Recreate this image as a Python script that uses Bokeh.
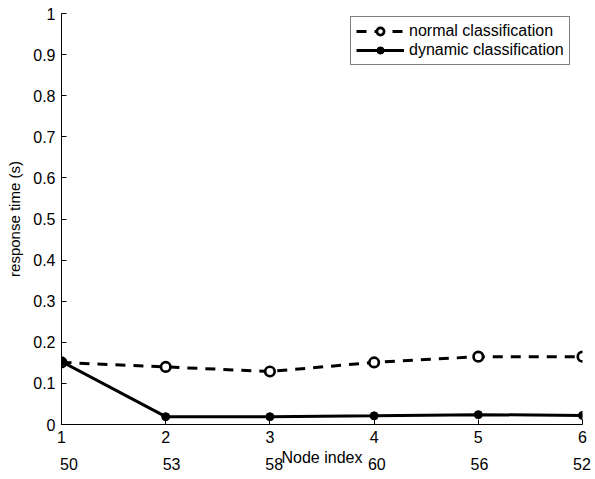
from bokeh.plotting import figure
from bokeh.models import (Range1d, FixedTicker, CustomJSTickFormatter, Legend, LegendItem,
                          ColumnDataSource, LinearAxis)
from bokeh.embed import file_html
from bokeh.resources import INLINE

node_index = [1, 2, 3, 4, 5, 6]
node_counts = ["50", "53", "58", "60", "56", "52"]
normal_classification = [0.151, 0.140, 0.129, 0.151, 0.165, 0.165]
dynamic_classification = [0.153, 0.019, 0.019, 0.021, 0.024, 0.022]
y_ticks = [0, 0.1, 0.2, 0.3, 0.4, 0.5, 0.6, 0.7, 0.8, 0.9, 1]

FONT = "Liberation Sans"

p = figure(width=595, height=479, output_backend="svg", toolbar_location=None,
           x_range=Range1d(1, 6), y_range=Range1d(0, 1),
           min_border_left=61, min_border_right=13, min_border_top=13, min_border_bottom=55)
p.background_fill_color = "white"
p.border_fill_color = "white"
p.outline_line_color = None
p.xgrid.visible = False
p.ygrid.visible = False

# second row of x labels sits on a slightly compressed scale
p.extra_x_ranges = {"counts": Range1d(0.927, 6.005)}
ax2 = LinearAxis(x_range_name="counts", ticker=FixedTicker(ticks=node_index),
                 formatter=CustomJSTickFormatter(args=dict(labels=node_counts),
                                                 code="return labels[Math.round(tick) - 1];"))
ax2.axis_line_color = None
ax2.major_tick_line_color = None
ax2.minor_tick_line_color = None
ax2.major_tick_in = 0
ax2.major_tick_out = 0
ax2.major_label_standoff = 12
ax2.axis_label = "Node index"
ax2.axis_label_standoff = -24
p.add_layout(ax2, "below")

for ax in (p.xaxis[0], p.yaxis[0], ax2):
    ax.major_label_text_font = FONT
    ax.major_label_text_font_size = "16px"
    ax.major_label_text_color = "black"
    ax.axis_label_text_font = FONT
    ax.axis_label_text_font_style = "normal"
    ax.axis_label_text_color = "black"
    ax.axis_label_text_font_size = "16px"

for ax in (p.xaxis[0], p.yaxis[0]):
    ax.axis_line_color = "black"
    ax.axis_line_width = 1
    ax.major_tick_in = 5
    ax.major_tick_out = 0
    ax.major_tick_line_color = "black"
    ax.minor_tick_line_color = None

p.xaxis[0].ticker = FixedTicker(ticks=node_index)
p.xaxis[0].major_label_standoff = 6

p.yaxis.ticker = FixedTicker(ticks=y_ticks)
p.yaxis.formatter = CustomJSTickFormatter(code="return String(Math.round(tick*10)/10);")
p.yaxis.axis_label = "response time (s)"
p.yaxis.axis_label_text_font_size = "15px"
p.yaxis.major_label_standoff = 6
p.yaxis.axis_label_standoff = 7

src = ColumnDataSource(dict(x=node_index, normal=normal_classification,
                            dynamic=dynamic_classification))

n_line = p.line("x", "normal", source=src, line_color="black", line_width=3, line_dash="10 8")
n_pts = p.scatter("x", "normal", source=src, marker="circle", size=9.5, fill_color="white",
                  line_color="black", line_width=2.7)
d_line = p.line("x", "dynamic", source=src, line_color="black", line_width=3)
d_pts = p.scatter("x", "dynamic", source=src, marker="circle", size=8, fill_color="black",
                  line_color="black", line_width=1)

legend = Legend(items=[LegendItem(label="normal classification", renderers=[n_line, n_pts]),
                       LegendItem(label="dynamic classification", renderers=[d_line, d_pts])],
                location=(289, 359))
legend.border_line_color = "black"
legend.border_line_width = 1
legend.background_fill_color = "white"
legend.background_fill_alpha = 1
legend.label_text_font = FONT
legend.label_text_font_size = "16px"
legend.label_text_color = "black"
legend.glyph_width = 48
legend.glyph_height = 18
legend.label_height = 18
legend.label_standoff = 5
legend.padding = 5
legend.spacing = 1
legend.margin = 0
p.add_layout(legend)

open("out.html", "w").write(file_html(p, INLINE))
